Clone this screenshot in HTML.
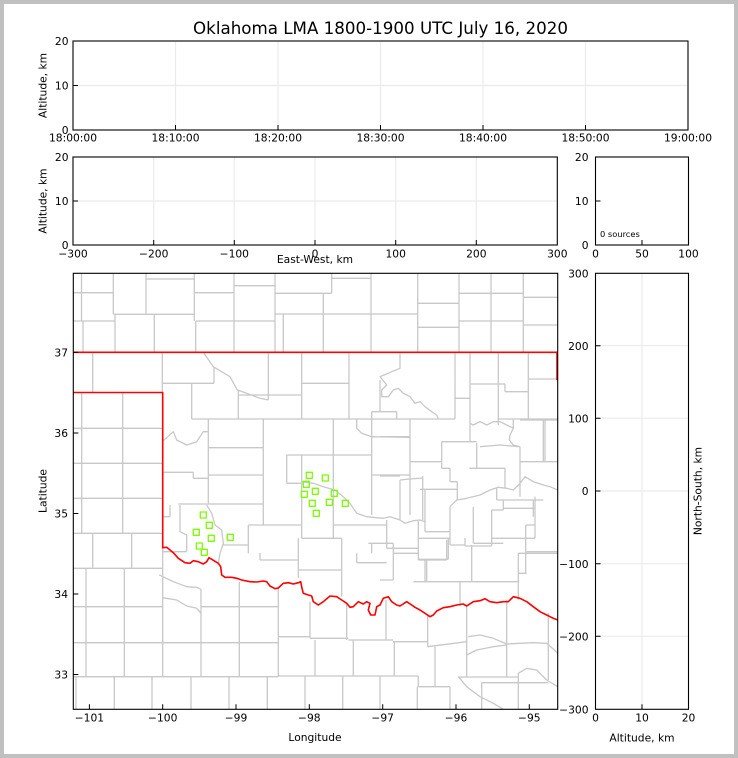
<!DOCTYPE html>
<html><head><meta charset="utf-8"><style>
html,body{margin:0;padding:0;background:#c0c0c0;}
svg{display:block;}
text{font-family:"DejaVu Sans","Liberation Sans",sans-serif;fill:#000;}
</style></head><body>
<svg width="738" height="758" viewBox="0 0 738 758" xmlns="http://www.w3.org/2000/svg">
<rect width="738" height="758" fill="#c0c0c0"/>
<rect x="4" y="4" width="730" height="750" fill="#fff"/>
<defs><clipPath id="mc"><rect x="73.3" y="273.3" width="484.4" height="436"/></clipPath></defs>

<text x="380.5" y="34" font-size="16.7" text-anchor="middle">Oklahoma LMA 1800-1900 UTC July 16, 2020</text>

<!-- Top time panel -->
<g stroke="#ebebeb" stroke-width="1.2" fill="none">
<path d="M175.5 41V130M278 41V130M380.5 41V130M483 41V130M585.5 41V130M73 85.5H688"/>
</g>
<rect x="73" y="41" width="615" height="89" fill="none" stroke="#000" stroke-width="1.1"/>
<g stroke="#000" stroke-width="1">
<path d="M73 85.5H78M175.5 130V125M278 130V125M380.5 130V125M483 130V125M585.5 130V125"/>
</g>
<g font-size="10.7" text-anchor="end">
<text x="68.5" y="45.2">20</text><text x="68.5" y="89.7">10</text><text x="68.5" y="134.2">0</text>
</g>
<g font-size="10.7" text-anchor="middle">
<text x="73" y="141.5">18:00:00</text><text x="175.5" y="141.5">18:10:00</text><text x="278" y="141.5">18:20:00</text>
<text x="380.5" y="141.5">18:30:00</text><text x="483" y="141.5">18:40:00</text><text x="585.5" y="141.5">18:50:00</text>
<text x="688" y="141.5">19:00:00</text>
</g>
<text transform="translate(46.5,85.5) rotate(-90)" font-size="10.7" text-anchor="middle">Altitude, km</text>

<!-- Middle EW panel -->
<g stroke="#ebebeb" stroke-width="1.2" fill="none">
<path d="M153.7 157V245M234.3 157V245M315 157V245M395.7 157V245M476.3 157V245M73 201H557.3"/>
</g>
<rect x="73" y="157" width="484.3" height="88" fill="none" stroke="#000" stroke-width="1.1"/>
<g stroke="#000" stroke-width="1">
<path d="M73 201H78M153.7 245V240M234.3 245V240M315 245V240M395.7 245V240M476.3 245V240"/>
</g>
<g font-size="10.7" text-anchor="end">
<text x="68.5" y="161.2">20</text><text x="68.5" y="205.2">10</text><text x="68.5" y="249.2">0</text>
</g>
<g font-size="10.7" text-anchor="middle">
<text x="73" y="257.5">−300</text><text x="153.7" y="257.5">−200</text><text x="234.3" y="257.5">−100</text>
<text x="315" y="257.5">0</text><text x="395.7" y="257.5">100</text><text x="476.3" y="257.5">200</text><text x="557.3" y="257.5">300</text>
</g>
<text x="315" y="263" font-size="10.7" text-anchor="middle">East-West, km</text>
<text transform="translate(46.5,201) rotate(-90)" font-size="10.7" text-anchor="middle">Altitude, km</text>

<!-- Small histogram panel -->
<rect x="595.5" y="157" width="93" height="88" fill="none" stroke="#000" stroke-width="1.1"/>
<g stroke="#000" stroke-width="1"><path d="M595.5 201H600.5M642 245V240"/></g>
<g font-size="10.7" text-anchor="end">
<text x="588.5" y="161.2">20</text><text x="588.5" y="205.2">10</text><text x="588.5" y="249.2">0</text>
</g>
<g font-size="10.7" text-anchor="middle">
<text x="595.5" y="257.5">0</text><text x="642" y="257.5">50</text><text x="688.5" y="257.5">100</text>
</g>
<text x="600" y="237" font-size="8.3">0 sources</text>

<!-- Map panel -->
<g clip-path="url(#mc)" fill="none" stroke-linejoin="round">
<path stroke="#c8c8c8" stroke-width="1.3" d="
M81.5 273V321M83 321V352M113.3 273V314M115 314V352M146 273V314M154.3 314V352
M194.3 273V321M195.7 321V352M234 273V352M275 273V352M283.3 314V352
M331.7 273V293M323.3 293V352M371 273V352M417.7 273V352M459 273V352M491 273V352M523.3 273V352
M146 279H194.3M73 292.7H113.3M194.3 292.7H234M234 285.7H275M113.3 314.3H194.3M275 314H417.7
M73 321H115M195.7 321H275M275 293.3H331.7M331.7 278.3H371M417.7 303.3H459M417.7 327.3H459
M459 293.3H523.3M459 321H523.3M523.3 297.3H557.7M523.3 325H557.7
M92.7 352V392.5M162.3 352V392.5
M81.7 392.5V533.3M122.7 392.5V533.3M73 428.3H162.3M73 463.3H162.3M73 498.3H162.3M73 533.3H162.3
M92.7 533.3V568.3M131.7 533.3V568.3M73 568.3H162.3
M86 568.3V676.7M124.3 568.3V676.7M162.7 548V676.7
M73 606.7H162.7M73 642.7H278.3M73 676.7H278.3
M201 589.3V676.7M239.3 581.7V676.7M278.3 586.7V676.7
M159.3 575L173.3 581.7L186.7 586.7L196.7 587.3L201 589.3
M162.7 597.7L176.7 600L186.7 606L196.7 608.3L201 613.3
M201 606.7H278.3
M76 676.7V709.3M114.3 676.7V709.3M152 676.7V709.3M191 676.7V709.3M229 676.7V709.3M267.3 676.7V709.3
M278.3 636.7H310M310 601.7V638.3M310 638.3H348.3M348.3 640H393M393 641.7H428.3
M346.7 603V640M386 600V640M427.7 615V646.7M427.7 646.7L466.7 641.7
M466.7 606.7V676.7M506.7 600V676.7M548.3 613V680
M468.3 636.7L480 635L493.3 638.3L506.7 644L520 643.3L533.3 642.7L546.7 643.3L557.7 653
M466.7 655L476.7 650L493.3 646.7L506.7 645
M278.3 676H418.3M315 640V676M353.3 640V676M394.3 641.7V676
M435 646.7V686.7M418.3 686.7H450M418.3 676V686.7
M458.3 676.7L466.7 686.7L480 696.7L493.3 703.3L503.3 709.3
M458.3 677H518.3M481.7 682.7H548.3
M518.3 673.3L526.7 668.3L536.7 670L546.7 680L557.7 686.7
M305 676V709.3M342.7 676V709.3M380 676V709.3M417.3 686.7V709.3M450 686.7V709.3M481.7 682.7V709.3M518.3 673.3V709.3
M203.3 352.3L213.3 366.7L221.7 371.7L230 376.7L237.3 390L246.7 393.3L260 398.3L268.3 400
M268.3 352V400M238.3 395H301.7
M162.3 383.3H214M214 366.7V383.3M191.7 383.3V419M238.3 390V419
M301.7 352V419M301.7 383.3H348.3M349 352V419M191.7 419H455
M400 352.3L400 368.3L391.7 371.7L380 376.7L382.7 380L386.7 385L381.7 390L381.7 396.7L388.3 396.7L393.3 390L398.3 388.3L403.3 393.3L410 396.7L415 403.3L420 401.7L425 406.7L431.7 411.7L436.7 415L438.3 419
M380 380V411.7M371.7 411.7H396.7M396.7 411.7V419
M455 352V419M455 398.3H470M470 352V441.7M498.3 352V425
M470 384H505M505 384V391.7M505 391.7H528.3M528.3 352V419M528.3 379H557.7M528.3 419H557.7M545 419V461.7
M470 423.3L473.3 425L480 421.7L486.7 425L493.3 421.7L500 421.7L506.7 425L513.3 428.3L510 435L509.3 440L513.3 445L520 446.7
M498.3 419H528.3M513.3 419V428.3
M441.7 441.7H476.7M441.7 441.7V468.3M441.7 468.3H450M450 468.3V481.7M450 481.7H457.3M457.3 481.7V500
M476.7 443V468.3M469.3 468.3H505M505 468.3V488
M410 419V515M380 436.7H410M410 461.7H441.7
M520 420H557.7M543.3 420V461.7M520 446.7V496.7M520 461.7H557.7
M480 446.7L500 445L520 446.7
M301.7 481.7L313.3 483.3L323.3 486.7L335 490L343.3 496.7L350 503.3L356.7 513.3L366.7 516.7L383.3 518.3L390 516.7L400 520L405 523.3L413.3 520.7L420 520L425 521.7
M450 506.7L456.7 500L466.7 498.3L480 495L490 490L498.3 487.3L506.7 488.3L513.3 490L520 483.3L525 476.7L533.3 481.7L543.3 485L550 486.7L557.7 490
M380 476H400M400 480V520M422.7 476V520M400 480L410 479L423 478
M420 489.3H457.3M425 489.3V531.7M425 531.7H450M450 506.7V545M450 545H465M465 538V546M465 546H491.7
M496.7 487.3V500M496.7 500H543.3M503.3 500V510M491.7 510H503.3M491.7 510V546
M503.3 508.3H535M535 496.7V538.3M491.7 538.3H535
M525.7 525V573.3M525.7 525H535M526.7 551.7H557.7M518.3 573.3H526.7M518.3 553.3V600M518.3 553.3H557.7
M413.3 581.7H518.3M460 581.7V606M471.7 545V581.7
M418.3 538.3H450M418.3 538.3V559.3M418.3 559.3H448.3M448.3 538.3V559.3
M393.3 553.3H418.3M393.3 553.3V580M380 580H393.3M386.7 520V548.3M386.7 548.3H418.3M426.7 559.3V581.7
M162.3 441.7L173.3 431.7L176.7 440L186.7 445L196.7 441.7L203.3 431.7L208.3 431.7
M208.3 419V504M208.3 447.7H263.3M263.3 419V525M208.3 475H263.3
M162.3 472.3H193.3M193.3 472.3V478.3M193.3 478.3H208.3M178.3 504H263.3
M170 505V516.7M162.7 516.7H170M180 505V531.7L186.7 535V551.7M162.7 551.7H186.7
M206.7 505L211.7 513.3L215 525L221.7 530L223.3 543.3L220 553.3L218.3 563.3
M248.3 525H301.7M248.3 525V553.3M223.3 545H248.3M260 553V560M260 560H298.3M298.3 538.3V578
M286.7 455H371.7M286.7 455V483.3M286.7 483.3H301.7M301.7 455V538.3M333.3 419V538.3
M301.7 538.3H341.7M341.7 538.3V596.7M298.3 570H341.7
M371.7 411.7V515M371.7 475H410
M356.7 419V428.3L361.7 433.3L371.7 436.7L410 437.3
M333.3 525H386.7M368.3 543.3H393.3M371.7 543.3V553.3M393.3 543.3V562.7M356.7 562.7H386.7M356.7 553.3V562.7
M418.3 520V560M418.3 560H446.7M446.7 540V560M425 560V581.7
M473.3 507V543.3M473.3 543.3H503.3M533.3 500V516.7
"/>
<path stroke="#ff0000" stroke-width="1.6" d="M73 352.3H557.7M557 352.3V380M73 392.5H162.7V547.7
L166.7 547.3L173.3 552.7L178.3 558.3L185 562.7L190 563.3L193.3 560.7L198.3 561.7L203.3 564L206.7 561.7L209 557.7L211.7 559.3L218.3 563.3L220.7 566.7L221.7 575L225 577.3L231.7 577.3L236.7 578.3L241.7 580L250 581.7L256.7 582L263.3 581L266.7 581.7L270 586L275 588.7L278.3 588L283.3 583.3L288.3 582.7L293.3 584L298.3 582.7L300.7 581.7L301.7 587L303.3 593.3L308.3 595L311.7 596L313.3 601.7L318.3 605L323.3 601.7L330 596L336.7 596.7L341.7 600L346.7 603.3L350 607.3L353.3 606.7L358.3 601.7L363.3 604L366.7 601.7L370 603.3L368.3 610L370.7 615L375 615L376.7 606.7L380 605L383.3 598.3L388.3 596.7L391.7 601.7L396.7 605L400 606L406.7 601.7L411.7 605L415 607.3L420 610L425 613.3L430 616.7L433.3 615L436.7 611L443.3 607.7L450 606.7L456.7 605L463.3 604L466.7 606L473.3 601.7L480 600.7L485 598.7L490 601.7L496.7 602.7L503.3 601.7L508.3 601.7L513.3 596.7L520 598.3L526.7 601.7L533.3 606.7L540 611.7L546.7 615L553.3 618.3L557.7 620"/>
<g stroke="#7cfc00" stroke-width="1.3">
<rect x="306.3" y="472.3" width="6" height="6"/><rect x="322.3" y="475" width="6" height="6"/>
<rect x="303.3" y="481.3" width="6" height="6"/><rect x="312.3" y="488.3" width="6" height="6"/>
<rect x="301.3" y="491.3" width="6" height="6"/><rect x="331.3" y="490.3" width="6" height="6"/>
<rect x="309.3" y="500.3" width="6" height="6"/><rect x="326.3" y="499.3" width="6" height="6"/>
<rect x="342.3" y="500.3" width="6" height="6"/><rect x="313.3" y="510.3" width="6" height="6"/>
<rect x="200.3" y="512" width="6" height="6"/><rect x="206.3" y="522.3" width="6" height="6"/>
<rect x="193.3" y="529.3" width="6" height="6"/><rect x="208.3" y="535.3" width="6" height="6"/>
<rect x="227.3" y="534.3" width="6" height="6"/><rect x="196.3" y="543" width="6" height="6"/>
<rect x="201.3" y="549.3" width="6" height="6"/>
</g>
</g>
<rect x="73.3" y="273.3" width="484.4" height="436" fill="none" stroke="#000" stroke-width="1.1"/>
<g stroke="#000" stroke-width="1">
<path d="M73.3 352.3H78.3M73.3 433H78.3M73.3 513.5H78.3M73.3 594H78.3M73.3 674.5H78.3
M89.4 709.3V704.3M162.7 709.3V704.3M236 709.3V704.3M309.3 709.3V704.3M382.7 709.3V704.3M456 709.3V704.3M529.3 709.3V704.3"/>
</g>
<g font-size="10.7" text-anchor="end">
<text x="68" y="356.5">37</text><text x="68" y="437.2">36</text><text x="68" y="517.7">35</text>
<text x="68" y="598.2">34</text><text x="68" y="678.7">33</text>
</g>
<g font-size="10.7" text-anchor="middle">
<text x="89.4" y="721.7">−101</text><text x="162.7" y="721.7">−100</text><text x="236" y="721.7">−99</text>
<text x="309.3" y="721.7">−98</text><text x="382.7" y="721.7">−97</text><text x="456" y="721.7">−96</text><text x="529.3" y="721.7">−95</text>
</g>
<text x="315" y="741" font-size="10.7" text-anchor="middle">Longitude</text>
<text transform="translate(46.5,491) rotate(-90)" font-size="10.7" text-anchor="middle">Latitude</text>

<!-- Right NS panel -->
<g stroke="#ebebeb" stroke-width="1.2" fill="none">
<path d="M642 273V709M595.5 345.7H688.5M595.5 418.3H688.5M595.5 491H688.5M595.5 563.7H688.5M595.5 636.3H688.5"/>
</g>
<rect x="595.5" y="273.3" width="93" height="436" fill="none" stroke="#000" stroke-width="1.1"/>
<g stroke="#000" stroke-width="1">
<path d="M595.5 345.7H600.5M595.5 418.3H600.5M595.5 491H600.5M595.5 563.7H600.5M595.5 636.3H600.5M642 709.3V704.3"/>
</g>
<g font-size="10.7" text-anchor="end">
<text x="588.5" y="277.5">300</text><text x="588.5" y="349.9">200</text><text x="588.5" y="422.5">100</text>
<text x="588.5" y="495.2">0</text><text x="588.5" y="567.9">−100</text><text x="588.5" y="640.5">−200</text><text x="588.5" y="713.5">−300</text>
</g>
<g font-size="10.7" text-anchor="middle">
<text x="595.5" y="721.7">0</text><text x="642" y="721.7">10</text><text x="688.5" y="721.7">20</text>
</g>
<text x="642" y="741.5" font-size="10.7" text-anchor="middle">Altitude, km</text>
<text transform="translate(701.5,491) rotate(-90)" font-size="10.7" text-anchor="middle">North-South, km</text>
</svg>
</body></html>
